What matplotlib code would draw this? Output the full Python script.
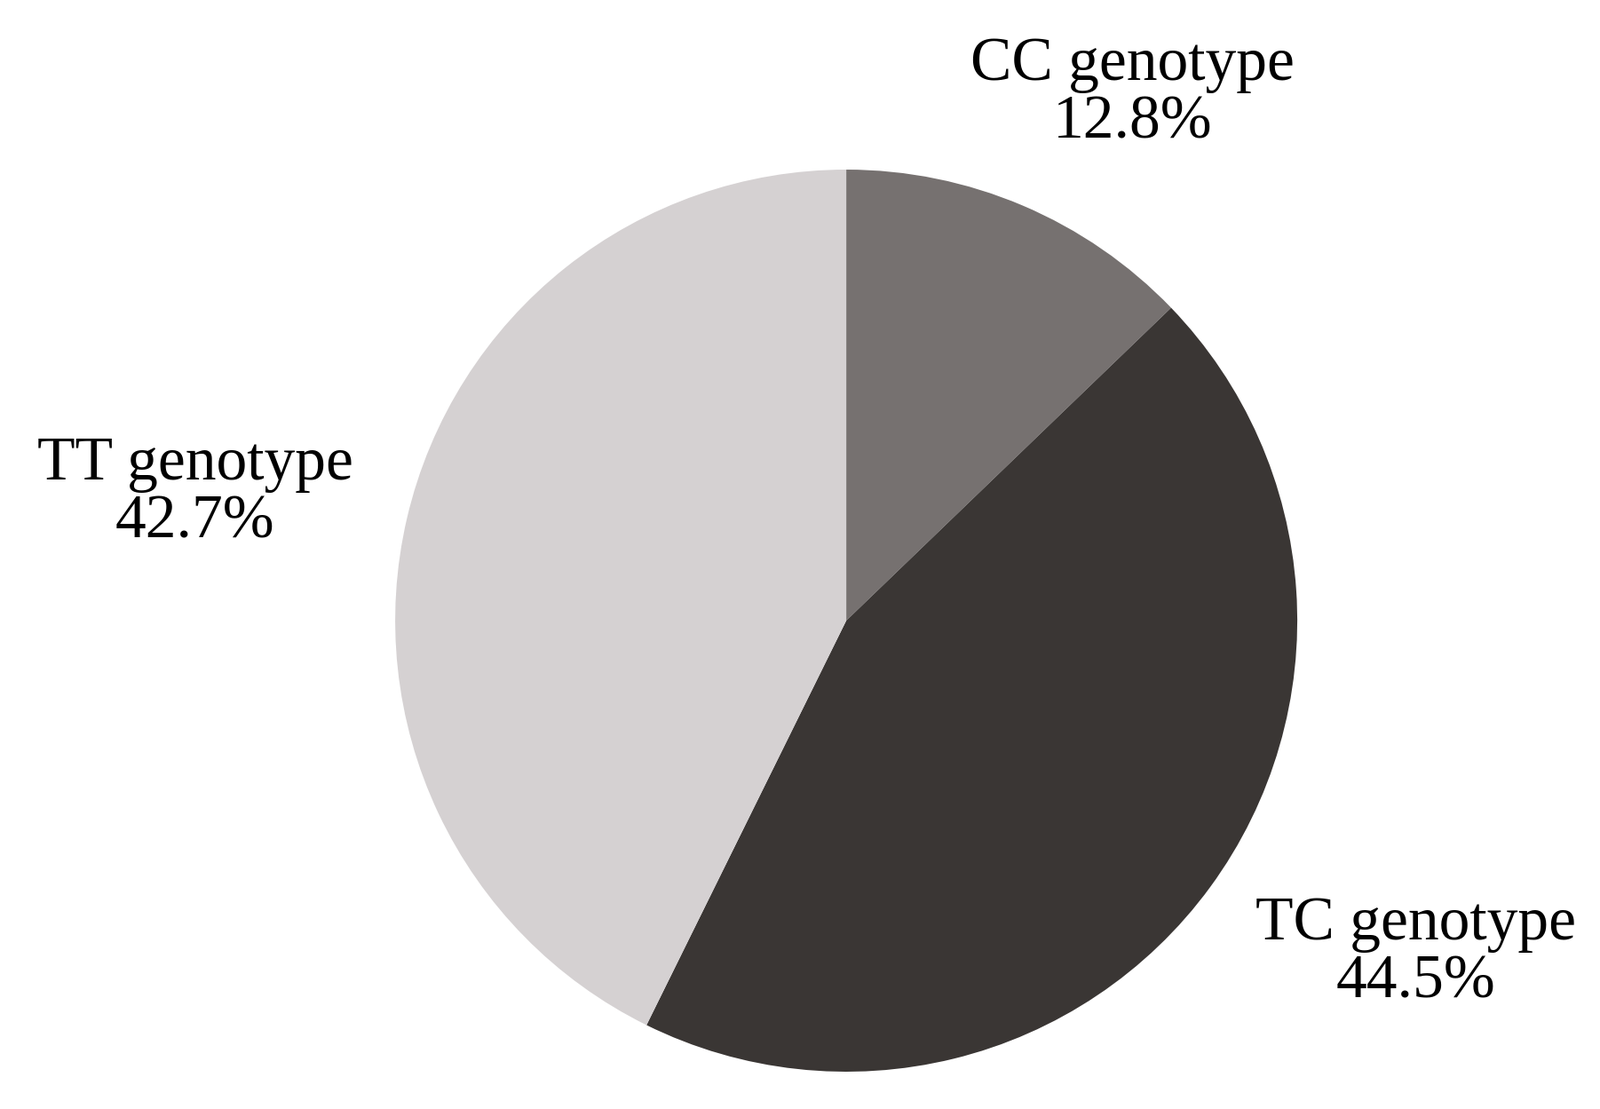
import matplotlib
matplotlib.use("Agg")
import matplotlib.pyplot as plt

labels = ["CC genotype", "TC genotype", "TT genotype"]
shares = [12.8, 44.5, 42.7]
colors = ["#767170", "#3a3634", "#d5d1d2"]
# label centres in figure fractions
label_pos = [(0.708, 0.915), (0.885, 0.14), (0.122, 0.555)]

plt.rcParams["font.family"] = ["Liberation Serif", "DejaVu Serif"]

fig = plt.figure(figsize=(18.02, 12.49), dpi=100)
ax = fig.add_axes([0.247, 0.0336, 0.5638, 0.8135])
ax.pie(shares, colors=colors, startangle=90, counterclock=False, radius=1)
ax.set_xlim(-1, 1)
ax.set_ylim(-1, 1)
ax.set_aspect("equal")
ax.axis("off")

for lab, val, (x, y) in zip(labels, shares, label_pos):
    fig.text(x, y, f"{lab}\n{val}%", ha="center", va="center",
             fontsize=50, linespacing=1.05)

fig.savefig("out.png", dpi=100)
